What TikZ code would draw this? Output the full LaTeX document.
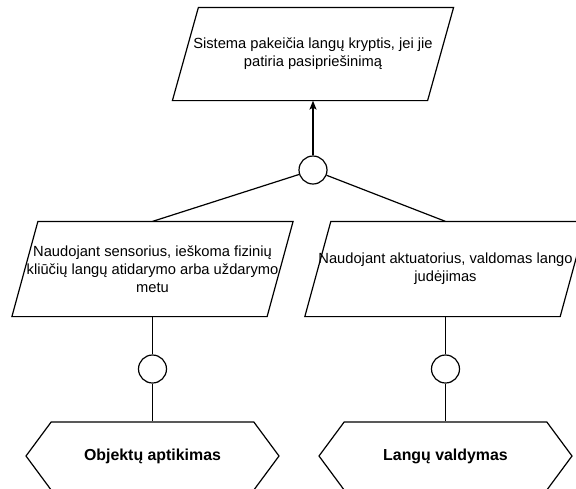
\documentclass[tikz,border=0pt]{standalone}
\usepackage{fontspec}
\setmainfont{Liberation Sans}
\usepackage{tikz}
\usetikzlibrary{shapes.symbols,arrows.meta}

\begin{document}
\begin{tikzpicture}[x=1pt,y=-1pt,line width=1.2pt]
        \tikzstyle{every node}+=[inner sep=0pt,font=\fontsize{14.7}{18}\selectfont]
        \tikzstyle{goal}=[minimum width=254,minimum height=94,align=center,append after command={\pgfextra{\draw ([xshift=13]\tikzlastnode.north west) -- ([xshift=13]\tikzlastnode.north east) -- ([xshift=-13]\tikzlastnode.south east) -- ([xshift=-13]\tikzlastnode.south west) -- cycle;}}]
        \tikzstyle{junction}=[draw,circle,minimum size=28]
        \tikzstyle{feature}=[draw,signal,signal to=east and west,signal pointer angle=107,minimum width=253,minimum height=68,font=\fontsize{15.9}{19}\selectfont\bfseries]
        \useasboundingbox (0,0) rectangle (576,488);
        \node [goal, minimum height=92] (g0) at (313,54) {Sistema pakeičia langų kryptis, jei jie\\patiria pasipriešinimą};
        \node [junction] (c0) at (313,170) {};
        \node [goal] (g1) at (152.5,269) {Naudojant sensorius, ieškoma fizinių\\kliūčių langų atidarymo arba uždarymo\\metu};
        \node [goal] (g2) at (445.5,269) {Naudojant aktuatorius, valdomas lango\\judėjimas};
        \node [junction] (c1) at (152.5,369) {};
        \node [junction] (c2) at (445.5,369) {};
        \node [feature] (h1) at (152.5,456) {Objektų aptikimas};
        \node [feature] (h2) at (445.5,456) {Langų valdymas};
        \draw [-{Stealth[length=9pt,width=7pt,inset=2pt]}] (c0.north) -- (g0.south);
        \draw (c0) -- (g1.north);
        \draw (c0) -- (g2.north);
        \draw (g1.south) -- (c1) -- (h1.north);
        \draw (g2.south) -- (c2) -- (h2.north);
\end{tikzpicture}
\end{document}
